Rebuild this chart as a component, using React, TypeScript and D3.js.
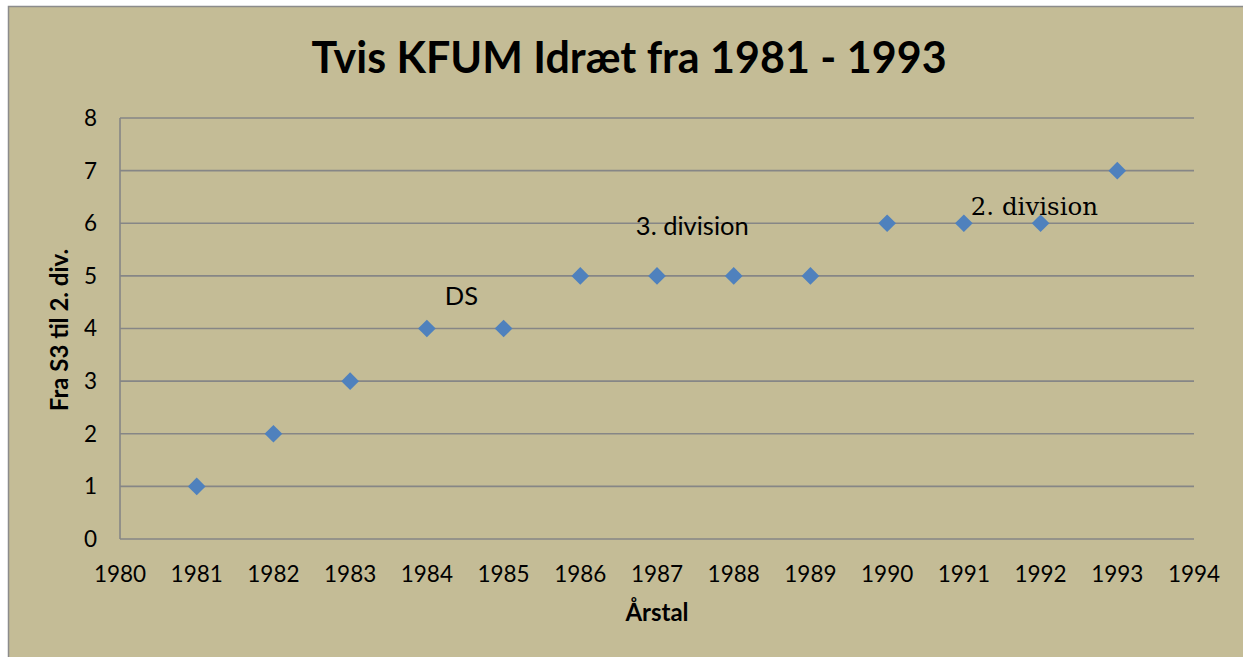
import * as d3 from "d3";

const years = [1981, 1982, 1983, 1984, 1985, 1986, 1987, 1988, 1989, 1990, 1991, 1992, 1993];
const levels = [1, 2, 3, 4, 4, 5, 5, 5, 5, 6, 6, 6, 7];
const xTicks = [1980, 1981, 1982, 1983, 1984, 1985, 1986, 1987, 1988, 1989, 1990, 1991, 1992, 1993, 1994];
const yTicks = [0, 1, 2, 3, 4, 5, 6, 7, 8];

// text labels placed in data coordinates
const notes = [
  { label: "DS", x: 1984.45, y: 4.45, serif: false },
  { label: "3. division", x: 1987.46, y: 5.77, serif: false },
  { label: "2. division", x: 1991.92, y: 6.15, serif: true },
];

const title = "Tvis KFUM Idræt fra 1981 - 1993";
const xTitle = "Årstal";
const yTitle = "Fra S3 til 2. div.";

export default function App() {
  const width = 1243;
  const height = 657;
  const margins = { top: 118, left: 120, right: 49, bottom: 118 };
  const boundedWidth = width - margins.left - margins.right;
  const boundedHeight = 539 - margins.top;

  const xScale = d3.scaleLinear().domain([1980, 1994]).range([0, boundedWidth]);
  const yScale = d3.scaleLinear().domain([0, 8]).range([boundedHeight, 0]);

  const diamond = d3.symbol().type(d3.symbolDiamond2).size(200)();
  const font = "Lato, 'Open Sans', sans-serif";
  const grid = "#868686";

  return (
    <svg
      width={width}
      height={height}
      style={{ position: "absolute", left: 0, top: 0, display: "block" }}
    >
      <rect x={0} y={0} width={width} height={height} fill="#ffffff" />
      <rect x={8.5} y={6.5} width={width + 10} height={height + 10} fill="#C4BC96" stroke="#8C8C8C" strokeWidth={1.5} />
      <text x={629} y={73} textAnchor="middle" fontFamily={font} fontWeight="bold" fontSize={43} fill="#000">
        {title}
      </text>
      <g transform={`translate(${margins.left},${margins.top})`}>
        {yTicks.map((t) => (
          <g key={t}>
            {t > 0 && (
              <line x1={0} x2={boundedWidth} y1={yScale(t)} y2={yScale(t)} stroke={grid} strokeWidth={1.6} />
            )}
            <text x={-23} y={yScale(t)} dy="0.35em" textAnchor="end" fontFamily={font} fontSize={22.5} fill="#000">
              {t}
            </text>
          </g>
        ))}
        <line x1={0} x2={boundedWidth} y1={boundedHeight} y2={boundedHeight} stroke={grid} strokeWidth={1.6} />
        <line x1={0} x2={0} y1={0} y2={boundedHeight} stroke={grid} strokeWidth={1.6} />
        {xTicks.map((t) => (
          <text key={t} x={xScale(t)} y={boundedHeight + 43} textAnchor="middle" fontFamily={font} fontSize={22.5} fill="#000">
            {t}
          </text>
        ))}
        {years.map((yr, i) => (
          <path key={yr} d={diamond ?? ""} transform={`translate(${xScale(yr)},${yScale(levels[i])})`} fill="#4F81BD" />
        ))}
        {notes.map((n) => (
          <text
            key={n.label}
            x={xScale(n.x)}
            y={yScale(n.y)}
            textAnchor="middle"
            fontFamily={n.serif ? "'DejaVu Serif', 'Liberation Serif', serif" : font}
            fontSize={n.serif ? 24.5 : 25.5}
            fill="#000"
          >
            {n.label}
          </text>
        ))}
      </g>
      <text x={657} y={621} textAnchor="middle" fontFamily={font} fontWeight="bold" fontSize={24} fill="#000">
        {xTitle}
      </text>
      <text
        transform={`translate(68,330) rotate(-90)`}
        textAnchor="middle"
        fontFamily={font}
        fontWeight="bold"
        fontSize={24}
        fill="#000"
      >
        {yTitle}
      </text>
    </svg>
  );
}
